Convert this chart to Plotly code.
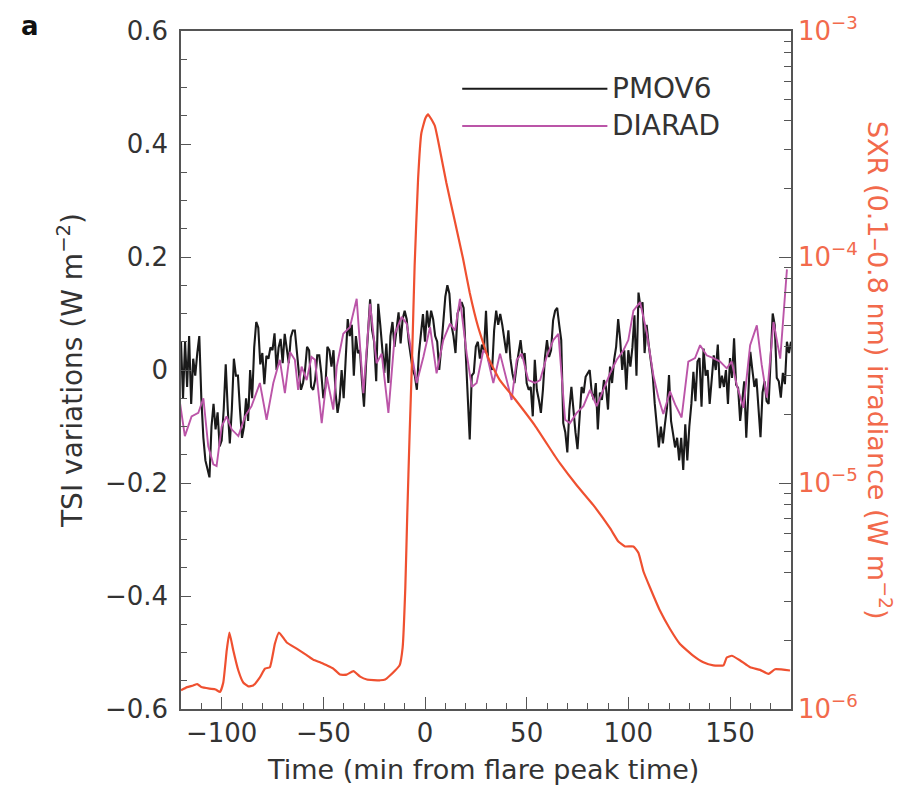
import plotly.graph_objects as go

# ---------------- data ----------------
# PMOV6 TSI variations (W m-2), one value per minute from -120 to 180 min
pmov6_t = list(range(-120, 181))
pmov6_v = [
    0.05, -0.05, 0.05, -0.03, 0.06, -0.06, 0.02, -0.01, 0.03, 0.06,
    -0.05, -0.12, -0.16, -0.175, -0.19, -0.10, -0.06, -0.105, -0.075, -0.135,
    -0.125, -0.07, 0.01, -0.07, -0.13, -0.07, 0.02, -0.01, -0.01, -0.07,
    -0.12, -0.10, -0.05, -0.09, 0.0, -0.05, 0.04, 0.085, 0.075, 0.01,
    0.03, -0.025, 0.025, 0.02, 0.04, 0.035, 0.065, 0.0, 0.04, 0.055,
    0.012, 0.064, 0.04, 0.012, 0.058, 0.07, 0.07, 0.03, -0.006, -0.035,
    -0.023, 0.0, 0.041, 0.035, -0.03, -0.035, -0.017, 0.026, 0.026, -0.006,
    -0.05, -0.03, 0.041, 0.035, 0.006, 0.035, -0.04, -0.076, -0.053, 0.0,
    -0.05, 0.02, 0.09, 0.06, 0.08, -0.01, 0.06, 0.03, 0.035, -0.02,
    -0.065, 0.01, 0.06, 0.125, 0.07, 0.05, -0.02, 0.117, 0.08, 0.04,
    -0.005, 0.047, -0.023, 0.06, 0.085, 0.041, 0.07, 0.102, 0.047, 0.09,
    0.105, 0.09, 0.05, 0.02, 0.0, -0.01, -0.035, 0.029, 0.064, 0.099,
    0.05, 0.105, 0.075, 0.105, 0.09, 0.06, 0.05, 0.0, 0.04, 0.094,
    0.13, 0.15, 0.135, 0.08, 0.06, 0.03, 0.1, 0.11, 0.12, 0.11,
    0.03, -0.05, -0.123, -0.01, -0.005, 0.041, 0.05, 0.02, 0.045, 0.035,
    0.105, 0.02, 0.01, 0.0, 0.07, 0.105, 0.08, 0.099, 0.08, 0.05,
    0.03, 0.07, 0.02, -0.006, -0.023, 0.006, 0.03, 0.053, 0.02, 0.03,
    -0.023, -0.035, -0.03, -0.082, 0.018, -0.035, -0.053, -0.076, -0.035, 0.023,
    0.053, 0.023, 0.035, 0.088, 0.105, 0.11, 0.08, 0.053, -0.094, -0.11,
    -0.146, -0.07, -0.03, -0.076, -0.11, -0.14, -0.076, -0.03, -0.041, -0.012,
    -0.006, 0.0, -0.04, -0.053, -0.023, -0.105, -0.04, -0.053, -0.018, -0.03,
    -0.07, 0.006, -0.023, 0.018, 0.041, 0.09, 0.053, 0.0, 0.035, -0.035,
    0.035, 0.006, 0.04, 0.097, -0.01, 0.137, 0.11, 0.12, 0.03, 0.08,
    0.045, 0.02, -0.009, -0.06, -0.096, -0.137, -0.1, -0.13, -0.096, -0.067,
    -0.009, -0.09, -0.113, -0.137, -0.12, -0.16, -0.12, -0.177, -0.096, -0.16,
    -0.1, -0.06, -0.003, -0.055, 0.015, 0.021, -0.065, 0.038, -0.01, 0.0,
    -0.06, -0.014, 0.026, 0.0, 0.045, -0.032, -0.01, -0.03, 0.0, -0.06,
    0.021, -0.014, 0.056, -0.026, -0.032, -0.09, -0.05, -0.02, -0.12, -0.04,
    0.032, 0.0, -0.03, -0.015, -0.06, -0.119, -0.04, -0.02, -0.055, -0.06,
    0.02, 0.1, 0.08, -0.014, -0.02, -0.049, -0.005, -0.025, 0.05, 0.03,
    0.05,
]

# DIARAD TSI variations (W m-2), coarser cadence
diarad_t = [
    -120.5, -118.1, -114.8, -111.5, -109.0, -106.6, -104.1, -102.5, -100.0, -97.6,
    -95.1, -91.8, -88.5, -85.3, -81.2, -77.9, -74.6, -71.4, -68.9, -66.4,
    -64.0, -62.4, -60.7, -58.2, -55.8, -54.1, -50.8, -48.3, -45.1, -43.4,
    -40.2, -36.9, -33.6, -30.3, -27.0, -23.8, -21.3, -18.0, -14.8, -11.5,
    -9.0, -6.6, -4.1, -0.8, 2.5, 5.7, 9.0, 12.3, 14.8, 17.2,
    20.5, 23.0, 25.4, 28.7, 30.3, 33.6, 36.9, 40.2, 42.6, 45.1,
    47.6, 50.8, 54.1, 56.6, 59.8, 63.1, 65.6, 68.9, 71.3, 74.6,
    77.9, 81.2, 84.4, 87.7, 91.0, 94.3, 97.6, 100.0, 102.5, 105.8,
    109.0, 112.3, 114.8, 117.2, 120.5, 123.0, 126.2, 129.5, 132.8, 135.3,
    138.5, 141.8, 145.1, 148.4, 150.8, 153.3, 156.6, 159.9, 163.2, 165.6,
    168.1, 171.4, 174.7, 178.0,
]
diarad_v = [
    -0.058, -0.117, -0.082, -0.076, -0.05, -0.135, -0.167, -0.17, -0.1, -0.082,
    -0.105, -0.117, -0.082, -0.064, -0.023, -0.088, -0.023, 0.018, -0.041, 0.032,
    0.018, -0.035, 0.006, -0.018, 0.023, 0.018, -0.094, -0.012, -0.07, 0.006,
    0.064, 0.076, 0.126, -0.041, 0.117, 0.012, 0.029, -0.076, 0.064, 0.094,
    0.082, 0.029, -0.023, 0.023, 0.076, -0.006, 0.053, 0.082, 0.07, 0.126,
    0.029, -0.03, -0.023, 0.035, 0.029, -0.023, 0.029, -0.018, -0.053, 0.018,
    0.029, -0.018, -0.023, -0.018, 0.023, 0.053, 0.064, -0.088, -0.094, -0.076,
    -0.064, -0.035, -0.064, -0.035, -0.006, 0.018, 0.035, 0.053, 0.105, 0.12,
    0.067, -0.009, -0.049, -0.078, -0.038, -0.061, -0.084, 0.015, 0.021, 0.044,
    0.026, 0.021, 0.015, 0.003, 0.015, -0.026, -0.067, 0.044, 0.079, 0.009,
    -0.049, 0.085, 0.02, 0.178,
]

# GOES SXR (0.1-0.8 nm) irradiance (W m-2)
sxr_t = [
    -120, -117, -114, -112, -110, -106, -103, -100.8, -99.2, -97.5,
    -96.2, -94.3, -91.8, -89.4, -86.9, -84.5, -81.2, -78.7, -76.3, -73.8,
    -71.8, -68, -63.1, -58.2, -54.9, -51.6, -48.3, -45.1, -41.8, -38.5,
    -35.2, -31.9, -28.6, -22, -19.6, -17.1, -14.7, -12.5, -11, -9.7,
    -8.7, -7.6, -6.4, -5.1, -3.4, -1.8, 0.2, 1.5, 4.8, 7.2,
    10.5, 14.6, 18.7, 22, 26.1, 31, 36.7, 44.1, 54, 63.8,
    66.4, 74.6, 82.8, 91, 95.1, 98.4, 102.5, 105, 107.4, 110.7,
    115.6, 120.5, 125.4, 132, 136.9, 141.8, 146.8, 148.4, 150.9, 155,
    159.9, 164.8, 168.9, 172.2, 179.5,
]
sxr_v = [
    1.21e-6, 1.25e-6, 1.27e-6, 1.29e-6, 1.25e-6, 1.23e-6, 1.22e-6, 1.19e-6, 1.31e-6, 1.82e-6,
    2.18e-6, 1.82e-6, 1.48e-6, 1.31e-6, 1.26e-6, 1.27e-6, 1.38e-6, 1.51e-6, 1.53e-6, 1.95e-6,
    2.18e-6, 1.97e-6, 1.85e-6, 1.73e-6, 1.65e-6, 1.61e-6, 1.56e-6, 1.51e-6, 1.42e-6, 1.42e-6,
    1.47e-6, 1.39e-6, 1.35e-6, 1.34e-6, 1.35e-6, 1.41e-6, 1.48e-6, 1.56e-6, 1.87e-6, 3.41e-6,
    7.38e-6, 1.61e-5, 3.46e-5, 9.14e-5, 2.22e-4, 3.53e-4, 4.11e-4, 4.28e-4, 3.81e-4, 3.02e-4,
    2.13e-4, 1.45e-4, 9.84e-5, 6.95e-5, 4.91e-5, 3.60e-5, 2.86e-5, 2.36e-5, 1.80e-5, 1.32e-5,
    1.22e-5, 9.77e-6, 7.98e-6, 6.31e-6, 5.51e-6, 5.24e-6, 5.24e-6, 4.90e-6, 4.07e-6, 3.44e-6,
    2.72e-6, 2.26e-6, 1.94e-6, 1.72e-6, 1.61e-6, 1.56e-6, 1.56e-6, 1.69e-6, 1.72e-6, 1.64e-6,
    1.53e-6, 1.49e-6, 1.43e-6, 1.50e-6, 1.48e-6,
]

# tick labels
x_tickvals = [-100, -50, 0, 50, 100, 150]
x_ticktext = ["\u2212100", "\u221250", "0", "50", "100", "150"]
y_tickvals = [-0.6, -0.4, -0.2, 0, 0.2, 0.4, 0.6]
y_ticktext = ["\u22120.6", "\u22120.4", "\u22120.2", "0", "0.2", "0.4", "0.6"]
y2_tickvals = [1e-6, 1e-5, 1e-4, 1e-3]
y2_ticktext = ["10<sup>\u22126</sup>", "10<sup>\u22125</sup>", "10<sup>\u22124</sup>", "10<sup>\u22123</sup>"]
y2_minor = [m * 10.0 ** e for e in (-6, -5, -4) for m in range(2, 10)]

# ---------------- style ----------------
FONT = "DejaVu Sans"
TXT = "#333333"
AX = "#555555"
C_PM = "#1a1a1a"
C_DI = "#bb55a8"
C_SXR = "#ef5030"
C_SXR_TXT = "#f26a4c"

fig = go.Figure()
fig.add_trace(go.Scatter(x=pmov6_t, y=pmov6_v, mode="lines", name="PMOV6",
                         line=dict(color=C_PM, width=2.1), yaxis="y", showlegend=False))
fig.add_trace(go.Scatter(x=diarad_t, y=diarad_v, mode="lines", name="DIARAD",
                         line=dict(color=C_DI, width=1.9), yaxis="y", showlegend=False))
fig.add_trace(go.Scatter(x=sxr_t, y=sxr_v, mode="lines", name="SXR",
                         line=dict(color=C_SXR, width=2.2, shape="spline", smoothing=0.4),
                         yaxis="y2", showlegend=False))

fig.update_layout(
    width=913, height=790,
    margin=dict(l=181, r=122, t=25, b=81),
    paper_bgcolor="white", plot_bgcolor="white",
    font=dict(family=FONT, color=TXT, size=24),
    xaxis=dict(
        range=[-120, 180], tickvals=x_tickvals, ticktext=x_ticktext,
        ticks="inside", ticklen=12, tickwidth=1.3, tickcolor=AX,
        minor=dict(dtick=10, tick0=0, ticks="inside", ticklen=6, tickwidth=1.2, tickcolor=AX),
        showline=True, linecolor=AX, linewidth=1.5, mirror=True,
        showgrid=False, zeroline=False,
        tickfont=dict(size=26, color=TXT, family=FONT),
    ),
    yaxis=dict(
        range=[-0.6, 0.6], tickvals=y_tickvals, ticktext=y_ticktext,
        ticks="inside", ticklen=10, tickwidth=1.3, tickcolor=AX,
        minor=dict(dtick=0.05, tick0=0, ticks="inside", ticklen=6, tickwidth=1.2, tickcolor=AX),
        showline=True, linecolor=AX, linewidth=1.5,
        showgrid=False, zeroline=False, ticklabelstandoff=6,
        tickfont=dict(size=26, color=TXT, family=FONT),
    ),
    yaxis2=dict(
        type="log", range=[-6, -3], overlaying="y", side="right",
        tickvals=y2_tickvals, ticktext=y2_ticktext,
        ticks="inside", ticklen=12, tickwidth=1.3, tickcolor=AX,
        minor=dict(tickmode="array", tickvals=y2_minor, ticks="inside", ticklen=7,
                   tickwidth=1.2, tickcolor=AX),
        showline=True, linecolor=AX, linewidth=1.5,
        showgrid=False, zeroline=False,
        tickfont=dict(size=26, color=C_SXR_TXT, family=FONT),
    ),
)

# legend drawn as lines + labels in paper space
leg = [("PMOV6", C_PM, 0.915), ("DIARAD", C_DI, 0.860)]
for name, col, yy in leg:
    fig.add_shape(type="line", xref="paper", yref="paper", x0=0.461, x1=0.699, y0=yy, y1=yy,
                  line=dict(color=col, width=2))
    fig.add_annotation(text=name, xref="paper", yref="paper", x=0.704, y=yy,
                       xanchor="left", yanchor="middle", showarrow=False,
                       font=dict(size=28, color=TXT, family=FONT))

# axis titles
fig.add_annotation(text="TSI variations (W m<sup>\u22122</sup>)", xref="paper", yref="paper",
                   x=-0.182, y=0.5, textangle=-90, showarrow=False,
                   xanchor="center", yanchor="middle",
                   font=dict(size=28, color=TXT, family=FONT))
fig.add_annotation(text="SXR (0.1\u20130.8 nm) irradiance (W m<sup>\u22122</sup>)", xref="paper", yref="paper",
                   x=1.146, y=0.5, textangle=90, showarrow=False,
                   xanchor="center", yanchor="middle",
                   font=dict(size=27, color=C_SXR_TXT, family=FONT))
fig.add_annotation(text="Time (min from flare peak time)", xref="paper", yref="paper",
                   x=0.495, y=-0.089, showarrow=False, xanchor="center", yanchor="middle",
                   font=dict(size=27, color=TXT, family=FONT))
fig.add_annotation(text="<b>a</b>", xref="paper", yref="paper",
                   x=-0.2475, y=1.007, showarrow=False, xanchor="center", yanchor="middle",
                   font=dict(size=26, color="#111111", family=FONT))

fig.write_html("out.html")
